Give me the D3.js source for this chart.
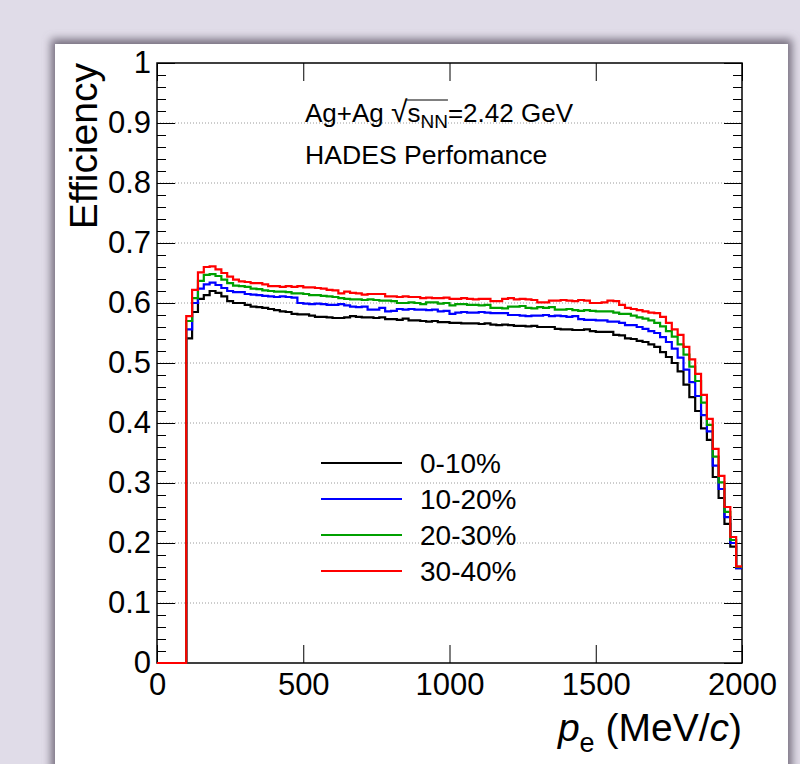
<!DOCTYPE html>
<html>
<head>
<meta charset="utf-8">
<script src="https://cdn.jsdelivr.net/npm/d3@7"></script>
<style>
  html, body { margin: 0; padding: 0; background: #e0dce8; }
  svg { display: block; }
</style>
</head>
<body>
<svg id="chart" width="800" height="764"></svg>
<script>
// Electron momentum binning (MeV/c): 100 bins of 20 MeV from 0 to 2000
const pMin = 0, pMax = 2000, binWidth = 20;

const centralityLabels = ["0-10%", "10-20%", "20-30%", "30-40%"];
const seriesColors = ["#000000", "#0000ff", "#00a000", "#ff0000"];

// Reconstruction efficiency per momentum bin, one array per centrality class
const eff0_10 = [
  0, 0, 0, 0, 0,
  .541, .585, .607, .613, .620, .617, .611, .603, .600, .600,
  .597, .594, .593, .592, .590, .588, .586, .585, .582, .581,
  .581, .579, .577, .577, .576, .575, .575, .576, .578, .577,
  .576, .576, .575, .576, .573, .573, .572, .574, .571, .571,
  .570, .569, .570, .568, .568, .567, .567, .566, .566, .566,
  .565, .566, .564, .563, .564, .563, .562, .562, .561, .562,
  .560, .560, .560, .557, .556, .556, .555, .555, .556, .553,
  .552, .552, .552, .547, .546, .541, .540, .537, .535, .531,
  .527, .518, .510, .500, .486, .464, .443, .420, .391, .372,
  .310, .275, .232, .194, .158
];
const eff10_20 = [
  0, 0, 0, 0, 0,
  .556, .600, .624, .631, .634, .630, .625, .620, .618, .618,
  .615, .614, .613, .612, .611, .610, .611, .610, .609, .600,
  .599, .598, .599, .598, .597, .597, .598, .596, .594, .593,
  .594, .589, .589, .592, .586, .587, .590, .589, .590, .589,
  .589, .588, .589, .586, .587, .582, .584, .585, .584, .584,
  .585, .584, .583, .583, .583, .580, .580, .579, .578, .579,
  .579, .580, .578, .579, .578, .577, .578, .573, .572, .572,
  .571, .571, .569, .569, .567, .563, .563, .560, .557, .553,
  .550, .543, .535, .524, .509, .489, .468, .445, .413, .386,
  .329, .290, .243, .200, .158
];
const eff20_30 = [
  0, 0, 0, 0, 0,
  .570, .608, .637, .647, .648, .645, .639, .633, .629, .628,
  .627, .624, .623, .621, .620, .619, .619, .618, .616, .616,
  .615, .613, .613, .612, .611, .610, .608, .607, .606, .606,
  .605, .606, .605, .604, .604, .603, .600, .600, .601, .600,
  .598, .601, .601, .599, .600, .596, .598, .598, .597, .597,
  .596, .597, .592, .592, .591, .594, .594, .595, .592, .591,
  .593, .592, .593, .589, .589, .590, .588, .587, .588, .587,
  .586, .586, .586, .584, .582, .582, .579, .576, .574, .571,
  .567, .561, .553, .544, .531, .514, .494, .470, .434, .397,
  .344, .301, .252, .205, .160
];
const eff30_40 = [
  0, 0, 0, 0, 0,
  .578, .622, .651, .660, .661, .656, .650, .644, .639, .636,
  .635, .633, .633, .631, .628, .628, .627, .628, .627, .628,
  .626, .626, .625, .624, .622, .621, .616, .619, .617, .616,
  .614, .615, .615, .615, .611, .611, .610, .611, .610, .610,
  .608, .609, .608, .608, .609, .607, .607, .608, .607, .606,
  .607, .607, .603, .603, .607, .608, .606, .607, .606, .605,
  .601, .601, .604, .604, .605, .604, .603, .605, .604, .600,
  .600, .601, .604, .603, .597, .592, .590, .588, .586, .584,
  .583, .577, .567, .556, .547, .527, .506, .482, .447, .407,
  .357, .312, .260, .210, .161
];
const seriesValues = [eff0_10, eff10_20, eff20_30, eff30_40];

const xTickValues = [0, 500, 1000, 1500, 2000];
const yMajorTicks = [0, 0.1, 0.2, 0.3, 0.4, 0.5, 0.6, 0.7, 0.8, 0.9, 1];
const yMinorTicks = d3.range(0, 1.0001, 0.02);
const yGridValues = [0.1, 0.2, 0.3, 0.4, 0.5, 0.6, 0.7, 0.8, 0.9];

const svg = d3.select("#chart");
const font = "'Liberation Sans', Arial, Helvetica, sans-serif";

// Canvas pad with soft drop shadow
const defs = svg.append("defs");
const blur = defs.append("filter").attr("id", "padShadow")
  .attr("x", "-10%").attr("y", "-10%").attr("width", "120%").attr("height", "120%");
blur.append("feGaussianBlur").attr("stdDeviation", 4);

svg.append("rect").attr("x", 51).attr("y", 39).attr("width", 741).attr("height", 760)
  .attr("fill", "#77707f").attr("filter", "url(#padShadow)");
svg.append("rect").attr("x", 55).attr("y", 44).attr("width", 733).attr("height", 740)
  .attr("fill", "#ffffff");

// Frame geometry
const L = 157, R = 742, T = 63, B = 663;
const x = d3.scaleLinear().domain([pMin, pMax]).range([L, R]);
const y = d3.scaleLinear().domain([0, 1]).range([B, T]);

// Horizontal dotted grid
svg.append("g").selectAll("line").data(yGridValues).join("line")
  .attr("x1", L).attr("x2", R)
  .attr("y1", d => y(d)).attr("y2", d => y(d))
  .attr("stroke", "#9a9a9a").attr("stroke-width", 1)
  .attr("stroke-dasharray", "1,2");

// Axes
function styleAxis(g) {
  g.select(".domain").remove();
  g.selectAll(".tick line").attr("stroke", "#000").attr("stroke-width", 1);
  g.selectAll(".tick text").attr("fill", "#000")
    .style("font-family", font).style("font-size", "31px");
}

svg.append("g").attr("transform", `translate(0,${B})`)
  .call(d3.axisBottom(x).tickValues(xTickValues).tickSize(-18).tickPadding(10).tickFormat(d3.format("d")))
  .call(styleAxis);
svg.append("g").attr("transform", `translate(0,${T})`)
  .call(d3.axisTop(x).tickValues(xTickValues).tickSize(-18).tickFormat(""))
  .call(styleAxis);

svg.append("g").attr("transform", `translate(${L},0)`)
  .call(d3.axisLeft(y).tickValues(yMinorTicks).tickSize(-9).tickFormat(""))
  .call(styleAxis);
svg.append("g").attr("transform", `translate(${L},0)`)
  .call(d3.axisLeft(y).tickValues(yMajorTicks).tickSize(-18).tickPadding(6).tickFormat(d3.format("~g")))
  .call(styleAxis);
svg.append("g").attr("transform", `translate(${R},0)`)
  .call(d3.axisRight(y).tickValues(yMinorTicks).tickSize(-9).tickFormat(""))
  .call(styleAxis);
svg.append("g").attr("transform", `translate(${R},0)`)
  .call(d3.axisRight(y).tickValues(yMajorTicks).tickSize(-18).tickFormat(""))
  .call(styleAxis);

// Frame
svg.append("rect").attr("x", L).attr("y", T).attr("width", R - L).attr("height", B - T)
  .attr("fill", "none").attr("stroke", "#000").attr("stroke-width", 1.5);

// Step histograms
const stepLine = d3.line()
  .x(d => x(d.p)).y(d => y(d.v))
  .curve(d3.curveStepAfter);

seriesValues.forEach((vals, si) => {
  const pts = vals.map((v, i) => ({ p: pMin + i * binWidth, v }));
  pts.push({ p: pMax, v: vals[vals.length - 1] });
  svg.append("path").datum(pts)
    .attr("d", stepLine)
    .attr("fill", "none")
    .attr("stroke", seriesColors[si])
    .attr("stroke-width", 2.2);
});

// Axis titles
svg.append("text")
  .attr("transform", `translate(97,${T}) rotate(-90)`)
  .attr("text-anchor", "end")
  .style("font-family", font).style("font-size", "39px")
  .text("Efficiency");

const xt = svg.append("text")
  .attr("x", R).attr("y", 741).attr("text-anchor", "end")
  .style("font-family", font).style("font-size", "39px");
xt.append("tspan").style("font-style", "italic").text("p");
xt.append("tspan").attr("dy", 11).style("font-size", "27px").text("e");
xt.append("tspan").attr("dy", -11).text("\u00a0(MeV/");
xt.append("tspan").style("font-style", "italic").text("c");
xt.append("tspan").text(")");

// Annotations
const ann = svg.append("text").attr("x", 305).attr("y", 122)
  .style("font-family", font).style("font-size", "26px");
ann.append("tspan").text("Ag+Ag ");
ann.append("tspan").style("font-size", "30px").style("font-weight", "300").text("\u221a");
ann.append("tspan").text("s");
ann.append("tspan").attr("dy", 6).style("font-size", "19px").text("NN");
ann.append("tspan").attr("dy", -6).text("=2.42 GeV");
const annNode = ann.node();
const rootEnd = annNode.getEndPositionOfChar(6).x;
const nnEnd = annNode.getEndPositionOfChar(9).x;
svg.append("line")
  .attr("x1", rootEnd - 1).attr("x2", nnEnd)
  .attr("y1", 100).attr("y2", 100)
  .attr("stroke", "#000").attr("stroke-width", 1);

svg.append("text").attr("x", 305).attr("y", 164)
  .style("font-family", font).style("font-size", "26.6px")
  .text("HADES Perfomance");

// Legend
const legendY = [463, 499, 535, 571];
const legend = svg.append("g");
centralityLabels.forEach((lab, i) => {
  legend.append("line")
    .attr("x1", 321).attr("x2", 402)
    .attr("y1", legendY[i]).attr("y2", legendY[i])
    .attr("stroke", seriesColors[i]).attr("stroke-width", 2.2);
  legend.append("text")
    .attr("x", 420).attr("y", legendY[i]).attr("dy", "0.35em")
    .style("font-family", font).style("font-size", "28px")
    .text(lab);
});
</script>
</body>
</html>
